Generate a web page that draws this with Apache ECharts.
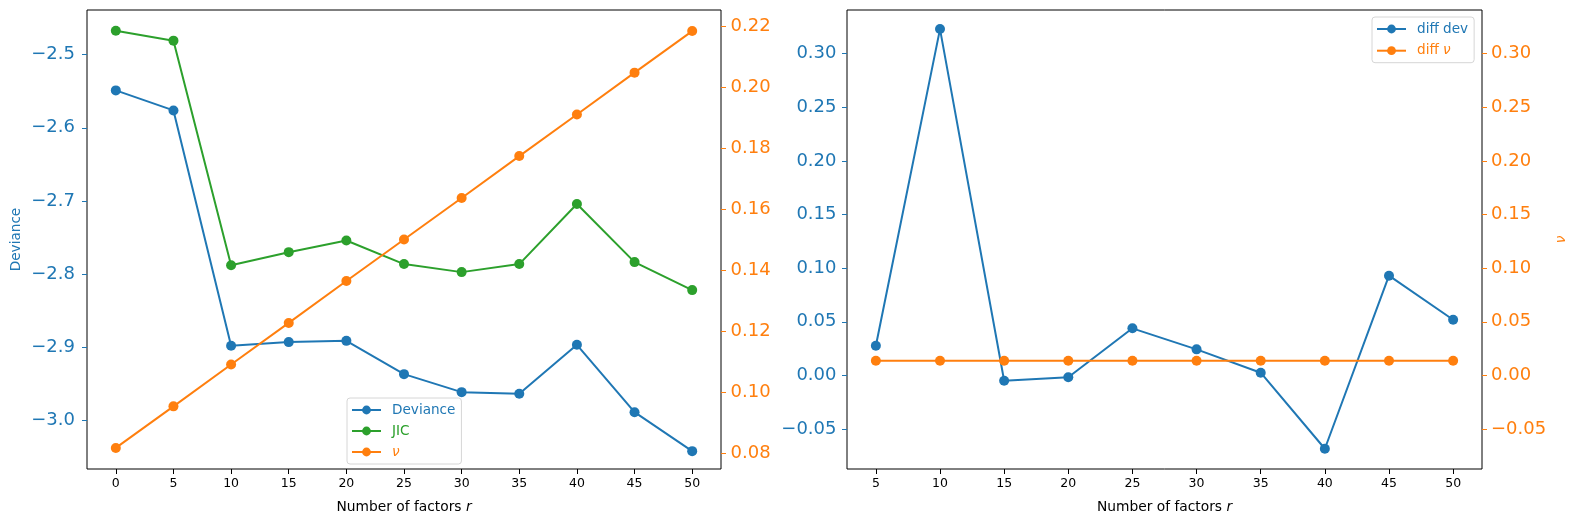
<!DOCTYPE html>
<html><head><meta charset="utf-8">
<script src="https://cdn.jsdelivr.net/npm/echarts@6/dist/echarts.min.js"></script>
<style>html,body{margin:0;padding:0;background:#fff}#c{width:1580px;height:526px}</style>
</head><body><div id="c"></div>
<script>
// ---- data ----
const rFactors = [0, 5, 10, 15, 20, 25, 30, 35, 40, 45, 50];
const deviance = [-2.5488, -2.5762, -2.8980, -2.8930, -2.8913, -2.9368, -2.9614, -2.9637, -2.8967, -2.9888, -3.0421];
const jic      = [-2.4672, -2.4808, -2.7880, -2.7700, -2.7540, -2.7863, -2.7973, -2.7863, -2.7042, -2.7836, -2.8219];
const nu       = [0.0819, 0.0955, 0.1092, 0.1228, 0.1365, 0.1501, 0.1637, 0.1774, 0.1910, 0.2047, 0.2183];
const diffR    = [5, 10, 15, 20, 25, 30, 35, 40, 45, 50];
const diffDev  = [0.0277, 0.3230, -0.0050, -0.0018, 0.0439, 0.0243, 0.0025, -0.0684, 0.0930, 0.0519];
const diffNu   = [0.0136, 0.0136, 0.0136, 0.0136, 0.0136, 0.0136, 0.0136, 0.0136, 0.0136, 0.0136];
// tick labels
const xTicksLeft  = [0, 5, 10, 15, 20, 25, 30, 35, 40, 45, 50];
const xTicksRight = [5, 10, 15, 20, 25, 30, 35, 40, 45, 50];
const devTicks  = [-3.0, -2.9, -2.8, -2.7, -2.6, -2.5];
const nuTicks   = [0.08, 0.10, 0.12, 0.14, 0.16, 0.18, 0.20, 0.22];
const diffTicks = [-0.05, 0.00, 0.05, 0.10, 0.15, 0.20, 0.25, 0.30];

const BLUE = '#1f77b4', ORANGE = '#ff7f0e', GREEN = '#2ca02c';
const FONT = 'DejaVu Sans';
const pairs = (xs, ys) => xs.map((x, i) => [x, ys[i]]);
const fmt = d => v => (v < -1e-9 ? '\u2212' : '') + Math.abs(v).toFixed(d);

function xAxisCfg(gi, min, max, ticks) {
  return {
    type: 'value', gridIndex: gi, min, max, position: 'bottom',
    axisLine: { show: false, onZero: false },
    splitLine: { show: false },
    axisTick: { show: true, customValues: ticks, length: 5, lineStyle: { color: '#000', width: 1 } },
    axisLabel: { customValues: ticks, color: '#000', fontFamily: FONT, fontSize: 12.5, margin: 8 },
    name: 'Number of factors {i|r}', nameLocation: 'middle', nameGap: 31,
    nameTextStyle: { color: '#000', fontFamily: FONT, fontSize: 13.8,
      rich: { i: { fontStyle: 'italic', color: '#000', fontFamily: FONT, fontSize: 13.8 } } }
  };
}
function yAxisCfg(gi, pos, min, max, ticks, color, dec, margin, extra) {
  return Object.assign({
    type: 'value', gridIndex: gi, position: pos, min, max,
    axisLine: { show: false, onZero: false },
    splitLine: { show: false },
    axisTick: { show: true, customValues: ticks, length: 5, lineStyle: { color: color, width: 1 } },
    axisLabel: { customValues: ticks, color: color, fontFamily: FONT, fontSize: 18, margin: margin, formatter: fmt(dec) }
  }, extra || {});
}
function lineSeries(name, xi, yi, data, color) {
  return {
    type: 'line', name, xAxisIndex: xi, yAxisIndex: yi, data,
    symbol: 'circle', symbolSize: 10, showSymbol: true,
    lineStyle: { color, width: 2 }, itemStyle: { color },
    emphasis: { disabled: true }, animation: false
  };
}
const legendCommon = {
  orient: 'vertical', itemWidth: 29, itemHeight: 11,
  padding: [5, 6, 5, 4],
  backgroundColor: 'rgba(255,255,255,0.8)', borderColor: '#d6d6d6', borderWidth: 1, borderRadius: 3,
  selectedMode: false,
  textStyle: { fontFamily: FONT, fontSize: 13.6, padding: [0, 0, 0, 6],
    rich: { i: { fontStyle: 'italic', color: ORANGE, fontFamily: FONT, fontSize: 13.6 } } },
  formatter: n => n === 'ν' ? '{i|ν}' : (n === 'diff ν' ? 'diff {i|ν}' : n)
};

const chart = echarts.init(document.getElementById('c'), null, { renderer: 'canvas' });
chart.setOption({
  animation: false,
  backgroundColor: '#fff',
  textStyle: { fontFamily: FONT },
  grid: [
    { left: 87, top: 10, width: 634, height: 459, show: true, borderColor: '#000', borderWidth: 1, backgroundColor: 'transparent' },
    { left: 847, top: 10, width: 635, height: 459, show: true, borderColor: '#000', borderWidth: 1, backgroundColor: 'transparent' }
  ],
  xAxis: [ xAxisCfg(0, -2.5, 52.5, xTicksLeft), xAxisCfg(1, 2.75, 52.25, xTicksRight) ],
  yAxis: [
    yAxisCfg(0, 'left', -3.0665, -2.4389, devTicks, BLUE, 1, 12, {
      name: 'Deviance', nameLocation: 'middle', nameRotate: 90, nameGap: 64,
      nameTextStyle: { color: BLUE, fontFamily: FONT, fontSize: 13.6 } }),
    yAxisCfg(0, 'right', 0.0750, 0.2252, nuTicks, ORANGE, 2, 9.5),
    yAxisCfg(1, 'left', -0.0873, 0.3408, diffTicks, BLUE, 2, 10.5),
    yAxisCfg(1, 'right', -0.0873, 0.3408, diffTicks, ORANGE, 2, 9, {
      name: 'ν', nameLocation: 'middle', nameRotate: 90, nameGap: 72,
      nameTextStyle: { color: ORANGE, fontFamily: FONT, fontSize: 13.6, fontStyle: 'italic' } })
  ],
  legend: [
    Object.assign({}, legendCommon, { left: 347, top: 398, itemGap: 7,
      data: [ { name: 'Deviance', textStyle: { color: BLUE } }, { name: 'JIC', textStyle: { color: GREEN } }, { name: 'ν', textStyle: { color: ORANGE } } ] }),
    Object.assign({}, legendCommon, { left: 1372, top: 17, itemGap: 7.7,
      data: [ { name: 'diff dev', textStyle: { color: BLUE } }, { name: 'diff ν', textStyle: { color: ORANGE } } ] })
  ],
  series: [
    lineSeries('Deviance', 0, 0, pairs(rFactors, deviance), BLUE),
    lineSeries('JIC', 0, 0, pairs(rFactors, jic), GREEN),
    lineSeries('ν', 0, 1, pairs(rFactors, nu), ORANGE),
    lineSeries('diff dev', 1, 2, pairs(diffR, diffDev), BLUE),
    lineSeries('diff ν', 1, 3, pairs(diffR, diffNu), ORANGE)
  ]
});
</script></body></html>
